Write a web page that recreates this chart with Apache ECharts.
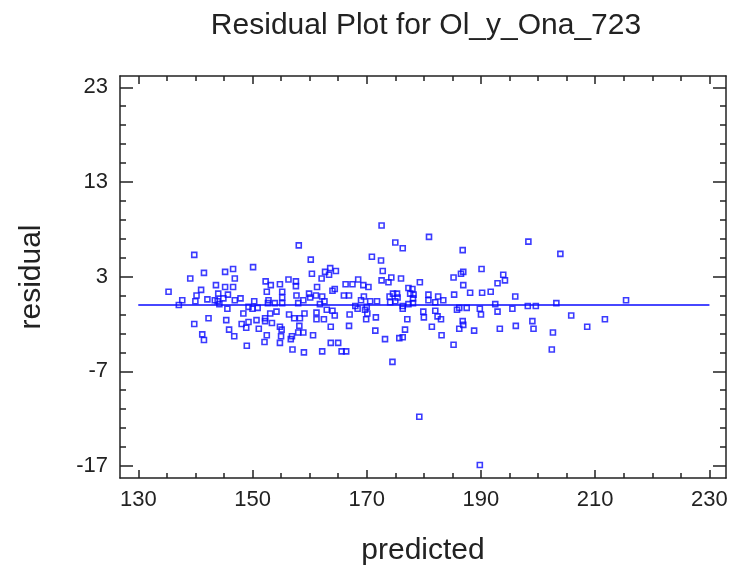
<!DOCTYPE html>
<html>
<head>
<meta charset="utf-8">
<script src="https://cdn.jsdelivr.net/npm/echarts@6/dist/echarts.min.js"></script>
<style>
  html, body { margin: 0; padding: 0; background: #ffffff; }
  #chart { width: 732px; height: 572px; }
</style>
</head>
<body>
<div id="chart"></div>
<script>
// Predicted values and their residuals (paired by index)
const predicted = [
  139.8,139.1,141.5,145.2,146.6,146.9,135.3,141.0,140.2,143.6,145.2,146.6,137.7,137.1,140.0,142.1,143.4,144.0,145.7,143.9,
  144.9,144.2,146.9,147.9,145.6,148.4,149.3,139.8,142.3,145.4,145.9,141.2,141.5,146.8,148.1,148.9,149.0,
  158.1,150.1,160.2,160.4,162.7,163.6,164.6,163.4,162.1,152.3,153.2,154.8,156.3,157.6,157.6,161.3,164.0,164.4,166.3,167.5,
  168.5,152.5,155.2,155.2,157.7,159.9,161.1,162.2,166.0,166.9,152.8,152.7,153.9,155.2,158.0,158.9,160.1,162.6,161.8,150.0,
  150.9,150.3,153.1,154.2,152.2,152.2,153.4,154.8,150.7,149.3,151.1,156.4,157.3,158.3,159.1,158.2,161.2,161.2,162.5,163.0,
  164.0,164.4,167.0,168.0,169.0,168.4,163.7,166.9,155.1,155.0,154.8,152.5,152.1,156.9,156.7,158.0,158.9,160.6,163.7,165.0,
  165.6,166.4,157.0,159.0,162.2,
  172.6,175.0,176.3,180.9,186.8,170.9,172.5,172.8,174.3,176.0,179.3,172.6,173.8,185.2,186.5,186.9,186.9,188.1,185.3,169.4,
  170.3,169.5,177.3,178.0,177.6,178.2,178.1,174.6,175.3,175.4,174.0,180.8,180.8,182.5,183.4,182.0,170.6,171.8,174.1,175.0,
  176.3,177.3,178.1,170.0,169.7,170.1,169.9,171.6,176.3,179.9,180.0,182.0,182.4,183.0,186.2,187.5,185.8,186.8,186.9,186.2,
  177.1,181.4,171.5,176.7,188.8,175.7,176.3,173.2,183.1,185.2,174.5,179.2,189.8,
  198.3,203.9,190.1,193.9,194.2,192.9,190.2,191.7,196.0,192.5,198.2,199.6,203.2,189.8,190.0,192.9,195.5,205.8,193.3,196.1,
  199.0,199.2,202.6,208.6,202.4,215.4,211.7
];
const residual = [
  5.3,2.8,3.4,3.5,3.8,2.8,1.4,1.6,1.0,2.1,1.9,1.9,0.5,0.0,0.4,0.6,0.5,1.2,1.1,0.4,
  0.7,0.1,0.5,0.7,-0.4,-0.9,-0.2,-2.0,-1.4,-1.6,-2.6,-3.1,-3.7,-3.3,-2.0,-2.4,-4.3,
  6.3,4.0,4.8,3.3,3.5,3.9,3.6,3.2,2.8,2.5,2.1,2.2,2.7,2.5,2.0,1.9,1.5,1.7,2.2,2.2,
  2.7,1.4,1.4,0.8,1.0,1.2,1.0,0.9,1.0,1.0,0.5,0.2,0.2,0.2,0.2,0.5,0.8,0.4,0.1,-0.4,
  -0.3,0.4,-0.9,-0.7,-1.4,-1.7,-1.9,-2.3,-1.6,-1.8,-2.5,-1.0,-1.4,-1.4,-0.9,-2.2,-0.8,-1.5,-1.5,-0.5,
  -0.6,-1.1,-1.0,-0.1,0.5,-0.4,-2.3,-2.2,-2.6,-3.3,-4.0,-3.2,-3.9,-3.3,-3.6,-2.9,-2.9,-3.2,-4.0,-4.0,
  -4.9,-4.9,-4.7,-5.0,-4.9,
  8.4,6.6,6.0,7.2,5.8,5.1,4.7,3.6,2.9,2.8,2.4,2.6,2.4,2.9,3.3,3.5,2.1,1.3,1.1,2.1,
  1.9,0.9,1.8,1.7,1.2,1.1,0.7,1.2,1.2,0.8,0.9,1.1,0.5,0.9,0.5,0.3,0.4,0.4,0.3,0.4,
  -0.1,0.1,0.2,-0.2,-0.5,-0.9,-1.5,-1.3,-0.4,-0.7,-1.3,-0.6,-1.2,-1.5,-0.3,-0.3,-0.5,-1.7,-2.1,-2.5,
  -1.5,-2.3,-2.7,-2.6,-2.7,-3.5,-3.4,-3.6,-3.2,-4.2,-6.0,-11.8,-16.9,
  6.7,5.4,3.8,3.2,2.6,2.3,1.3,1.4,0.9,0.1,-0.1,-0.1,0.2,-0.4,-1.0,-0.7,-0.4,-1.1,-2.5,-2.2,
  -1.7,-2.5,-2.9,-2.3,-4.7,0.5,-1.5
];

// Zero-residual reference line across the predicted range
const refLineX = [130, 230];
const refLineY = 0;

// Axis ticks and labels
const xMajorTicks = [130, 150, 170, 190, 210, 230];
const xMinorTicks = [130,135,140,145,150,155,160,165,170,175,180,185,190,195,200,205,210,215,220,225,230];
const yMajorTicks = [-17, -7, 3, 13, 23];
const yMinorTicks = [-17,-15,-13,-11,-9,-7,-5,-3,-1,1,3,5,7,9,11,13,15,17,19,21,23];

const X_MIN = 126.8, X_MAX = 232.9;
const Y_MIN = -18.27, Y_MAX = 24.19;

const BLUE = '#0a0aff';
const INK = '#222222';
const FONT = '"Liberation Sans", Arial, sans-serif';

const points = predicted.map((p, i) => [p, residual[i]]);

function xAxisDef(pos, ticks, len, withLine, withLabels) {
  return {
    type: 'value', position: pos, min: X_MIN, max: X_MAX,
    splitLine: { show: false },
    axisLine: { show: withLine, onZero: false, lineStyle: { color: INK, width: 1.5 } },
    axisTick: { show: true, inside: true, length: len, customValues: ticks, lineStyle: { color: INK, width: 1.5 } },
    axisLabel: withLabels
      ? { show: true, customValues: xMajorTicks, margin: 11, fontSize: 22, color: INK, fontFamily: FONT }
      : { show: false },
    name: withLabels ? 'predicted' : '',
    nameLocation: 'middle', nameGap: 58,
    nameTextStyle: { fontSize: 30, color: INK, fontFamily: FONT }
  };
}

function yAxisDef(pos, ticks, len, withLine, withLabels) {
  return {
    type: 'value', position: pos, min: Y_MIN, max: Y_MAX,
    splitLine: { show: false },
    axisLine: { show: withLine, onZero: false, lineStyle: { color: INK, width: 1.5 } },
    axisTick: { show: true, inside: true, length: len, customValues: ticks, lineStyle: { color: INK, width: 1.5 } },
    axisLabel: withLabels
      ? { show: true, customValues: yMajorTicks, margin: 12, fontSize: 22, color: INK, fontFamily: FONT }
      : { show: false },
    name: withLabels ? 'residual' : '',
    nameLocation: 'middle', nameGap: 73,
    nameTextStyle: { fontSize: 30, color: INK, fontFamily: FONT }
  };
}

const chart = echarts.init(document.getElementById('chart'), null, { renderer: 'canvas' });
chart.setOption({
  animation: false,
  backgroundColor: '#ffffff',
  title: {
    text: 'Residual Plot for Ol_y_Ona_723',
    left: 421, top: 6, textAlign: 'center',
    textStyle: { fontSize: 30, fontWeight: 'normal', color: INK, fontFamily: FONT }
  },
  grid: { left: 120, top: 76, right: 6, bottom: 94, containLabel: false },
  xAxis: [
    xAxisDef('bottom', xMajorTicks, 8, true, true),
    xAxisDef('bottom', xMinorTicks, 5, false, false),
    xAxisDef('top', xMajorTicks, 8, true, false),
    xAxisDef('top', xMinorTicks, 5, false, false)
  ],
  yAxis: [
    yAxisDef('left', yMajorTicks, 13, true, true),
    yAxisDef('left', yMinorTicks, 6, false, false),
    yAxisDef('right', yMajorTicks, 13, true, false),
    yAxisDef('right', yMinorTicks, 6, false, false)
  ],
  series: [
    {
      type: 'line',
      xAxisIndex: 0, yAxisIndex: 0,
      data: refLineX.map(x => [x, refLineY]),
      symbol: 'none',
      lineStyle: { color: BLUE, width: 1.3 },
      silent: true, z: 2
    },
    {
      type: 'scatter',
      xAxisIndex: 0, yAxisIndex: 0,
      data: points,
      symbol: 'rect',
      symbolSize: [5, 5],
      itemStyle: { color: 'rgba(0,0,0,0)', borderColor: BLUE, borderWidth: 1.6 },
      z: 3
    }
  ]
});
</script>
</body>
</html>
